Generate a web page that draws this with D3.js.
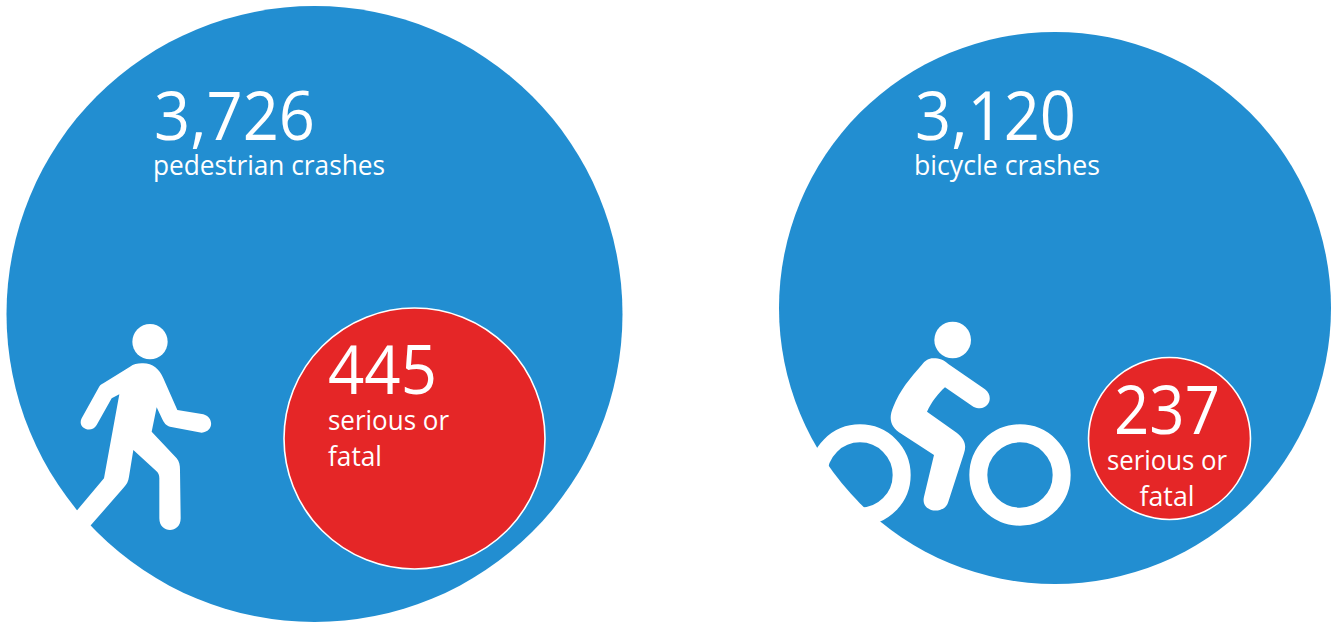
<!DOCTYPE html>
<html>
<head>
<meta charset="utf-8">
<script src="https://cdn.jsdelivr.net/npm/d3@7"></script>
<style>
  html, body { margin: 0; padding: 0; background: #fff; }
  svg { display: block; }
  text { font-family: "Open Sans", sans-serif; fill: #fff; }
</style>
</head>
<body>
<div id="chart"></div>
<script>
// data
var categories = ["pedestrian", "bicycle"];
var totalCrashes = [3726, 3120];
var seriousCrashes = [445, 237];
var totalLabels = ["pedestrian crashes", "bicycle crashes"];
var seriousLabels = [["serious or", "fatal"], ["serious or", "fatal"]];

var width = 1336, height = 623;
var blue = "#228ed1", red = "#e52627";

var svg = d3.select("#chart").append("svg")
    .attr("width", width)
    .attr("height", height);

// circle sizes, they are not strictly area-true
var radius = d3.scaleLinear()
    .domain([237, 445, 3120, 3726])
    .range([81, 130.5, 276, 308]);

var bigX = d3.scaleOrdinal(categories, [314.5, 1055]);
var bigY = d3.scaleOrdinal(categories, [314, 308]);
var redX = d3.scaleOrdinal(categories, [414.5, 1169.5]);
var redY = d3.scaleOrdinal(categories, [438.5, 438.5]);

// blue circles
svg.selectAll("circle.total")
    .data(categories)
    .enter()
    .append("circle")
    .attr("class", "total")
    .attr("cx", d => bigX(d))
    .attr("cy", d => bigY(d))
    .attr("r", (d, i) => radius(totalCrashes[i]))
    .attr("fill", blue);

// icons, drawn in the 3x units of the zoom crop
var walker = svg.append("g")
    .attr("transform", "translate(60,310) scale(0.33333)")
    .attr("fill", "#fff");
walker.append("circle").attr("cx", 270).attr("cy", 95).attr("r", 53);
walker.append("path").attr("d",
    "M245,160 C275,158 298,175 310,205 L352,300 L430,313 C462,322 462,365 425,368 " +
    "L330,350 C318,348 312,338 307,328 L290,292 L275,365 L350,445 C358,455 360,465 360,480 " +
    "L362,625 C362,672 298,672 298,625 L298,505 C298,495 295,488 288,482 L220,420 " +
    "L207,500 C205,515 200,522 192,532 L93,645 L60,680 L20,640 L52,600 L132,505 " +
    "L178,253 L155,265 L110,345 C95,372 50,355 65,325 L115,235 C118,228 122,224 130,220 " +
    "L210,170 C220,163 232,160 245,160 Z");

var rider = svg.append("g")
    .attr("transform", "translate(810,310) scale(0.33333)")
    .attr("fill", "#fff");
rider.append("circle").attr("cx", 428).attr("cy", 90).attr("r", 55);
rider.append("path").attr("d",
    "M370,145 C390,145 400,150 415,162 L525,238 C555,260 535,310 490,290 L405,232 " +
    "C385,250 365,275 351,305 L440,368 C465,388 470,405 462,430 L415,575 C405,615 330,610 342,560 " +
    "L372,435 L275,372 C240,350 235,325 250,290 C270,240 300,205 335,165 C345,152 355,145 370,145 Z");
rider.selectAll("circle.wheel")
    .data([150, 630])
    .enter()
    .append("circle")
    .attr("class", "wheel")
    .attr("cx", d => d)
    .attr("cy", 495)
    .attr("r", 125)
    .attr("fill", "none")
    .attr("stroke", "#fff")
    .attr("stroke-width", 54);

// red circles
svg.selectAll("circle.serious")
    .data(categories)
    .enter()
    .append("circle")
    .attr("class", "serious")
    .attr("cx", d => redX(d))
    .attr("cy", d => redY(d))
    .attr("r", (d, i) => radius(seriousCrashes[i]))
    .attr("fill", red)
    .attr("stroke", "#fff")
    .attr("stroke-width", 1.6);

function label(str, x, y, size, len, anchor) {
    svg.append("text")
        .attr("x", x)
        .attr("y", y)
        .attr("font-size", size)
        .attr("text-anchor", anchor || "start")
        .attr("textLength", len)
        .attr("lengthAdjust", "spacingAndGlyphs")
        .text(str);
}

var fmt = d3.format(",");
label(fmt(totalCrashes[0]), 154, 140, 67, 161);
label(totalLabels[0], 153, 175, 28, 232);
label(fmt(totalCrashes[1]), 915, 140, 67, 161);
label(totalLabels[1], 914, 175, 28, 186);

label(fmt(seriousCrashes[0]), 328, 393.5, 67, 109);
label(seriousLabels[0][0], 328, 430, 28, 121);
label(seriousLabels[0][1], 328, 465.5, 28, 54);

label(fmt(seriousCrashes[1]), 1167, 434, 67, 106, "middle");
label(seriousLabels[1][0], 1167, 470, 28, 120, "middle");
label(seriousLabels[1][1], 1167, 506, 28, 55, "middle");
</script>
</body>
</html>
